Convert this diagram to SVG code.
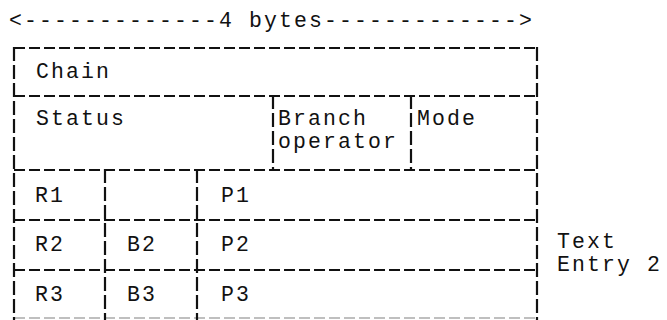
<svg xmlns="http://www.w3.org/2000/svg" width="667" height="320" viewBox="0 0 667 320">
<style>
text{font-family:"Liberation Mono","DejaVu Sans Mono",monospace;font-size:21.5px;letter-spacing:2.1px;fill:#111}
.h{stroke:#111;stroke-width:2.2;stroke-dasharray:11 4;fill:none}
.v{stroke:#111;stroke-width:2.2;stroke-dasharray:14 4;fill:none}
.f{stroke:#aaa;stroke-width:1.6;stroke-dasharray:11 4;fill:none}
</style>
<rect width="667" height="320" fill="#fff"/>
<g id="header"><text x="9" y="27">&lt;-------------4 bytes-------------&gt;</text></g>
<g id="connectors">
<line class="h" x1="14" y1="48" x2="537" y2="48"/>
<line class="h" x1="14" y1="96" x2="537" y2="96"/>
<line class="h" x1="14" y1="170" x2="537" y2="170"/>
<line class="h" x1="14" y1="220" x2="537" y2="220"/>
<line class="h" x1="14" y1="270" x2="537" y2="270"/>
<line class="f" x1="14" y1="318" x2="537" y2="318"/>
<line class="v" x1="14" y1="47" x2="14" y2="320"/>
<line class="v" x1="537" y1="47" x2="537" y2="320"/>
<line class="v" x1="273" y1="95" x2="273" y2="170"/>
<line class="v" x1="411" y1="95" x2="411" y2="170"/>
<line class="v" x1="105" y1="169" x2="105" y2="320"/>
<line class="v" x1="197" y1="169" x2="197" y2="320"/>
</g>
<g id="chain"><text x="36" y="78">Chain</text></g>
<g id="status"><text x="36" y="125">Status</text></g>
<g id="branch-operator"><text x="278" y="125">Branch</text><text x="278" y="148">operator</text></g>
<g id="mode"><text x="417" y="125">Mode</text></g>
<g id="r1"><text x="35" y="202">R1</text></g>
<g id="p1"><text x="221" y="202">P1</text></g>
<g id="r2"><text x="35" y="251">R2</text></g>
<g id="b2"><text x="127" y="251">B2</text></g>
<g id="p2"><text x="221" y="251">P2</text></g>
<g id="r3"><text x="35" y="301">R3</text></g>
<g id="b3"><text x="127" y="301">B3</text></g>
<g id="p3"><text x="221" y="301">P3</text></g>
<g id="text-entry-2"><text x="557" y="248">Text</text><text x="557" y="271">Entry 2</text></g>
</svg>
